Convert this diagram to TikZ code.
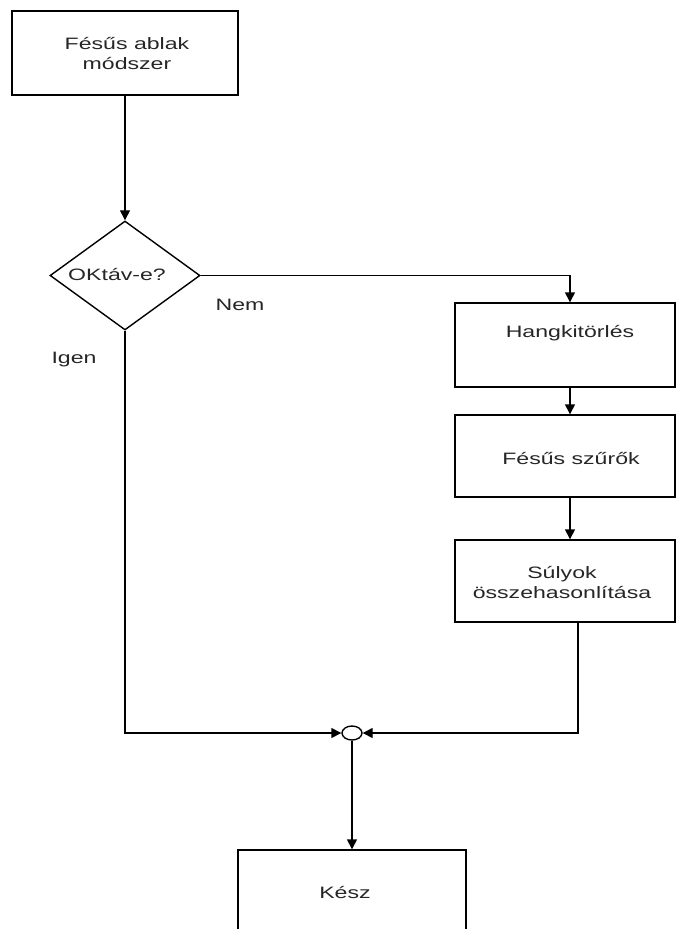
\documentclass[tikz,border=0pt]{standalone}
\usepackage{fontspec}
\setmainfont[FakeStretch=1.4]{Liberation Sans}
\usetikzlibrary{shapes.geometric,arrows.meta}
\begin{document}
\begin{tikzpicture}[x=1pt,y=-1pt, line width=1.4pt,
  >={Triangle[length=10pt,width=10pt]},
  box/.style={draw, rectangle, inner sep=0pt},
  lbl/.style={font=\fontsize{16.5}{20}\selectfont, align=center, inner sep=0pt, text=black!85}]
\useasboundingbox (0,0) rectangle (676,929);
\clip (0,0) rectangle (676,929);
% nodes
\node[box, minimum width=226pt, minimum height=84pt] (start) at (125,53) {};
\node[lbl] (starttxt) at (127,54) {Fésűs ablak\\módszer};
\node[draw, diamond, minimum width=150pt, minimum height=109pt, inner sep=0pt] (dec) at (125,275.5) {};
\node[lbl] (dectxt) at (117,275) {OKtáv-e?};
\node[box, minimum width=220pt, minimum height=84pt] (h) at (565,345) {};
\node[lbl] (htxt) at (570,333) {Hangkitörlés};
\node[box, minimum width=220pt, minimum height=82pt] (f) at (565,456) {};
\node[lbl] (ftxt) at (571,458) {Fésűs szűrők};
\node[box, minimum width=220pt, minimum height=82pt] (s) at (565,581) {};
\node[lbl] (stxt) at (562,582) {Súlyok\\összehasonlítása};
\node[draw, ellipse, minimum width=20pt, minimum height=14pt, inner sep=0pt] (j) at (352,733) {};
\node[box, minimum width=228pt, minimum height=84pt] (k) at (352,892) {};
\node[lbl] (ktxt) at (345,892) {Kész};
\node[lbl] (nem) at (240,305) {Nem};
\node[lbl] (igen) at (74,360) {Igen};
% connectors
\draw[->] (start) -- (dec);
\draw[->] (dec.east) -| ([xshift=5pt]h.north);
\draw[->] ([xshift=5pt]h.south) -- ([xshift=5pt]f.north);
\draw[->] ([xshift=5pt]f.south) -- ([xshift=5pt]s.north);
\draw[->] ([xshift=13pt]s.south) |- (j.east);
\draw[->] (dec.south) |- (j.west);
\draw[->] (j) -- (k);
\end{tikzpicture}
\end{document}
